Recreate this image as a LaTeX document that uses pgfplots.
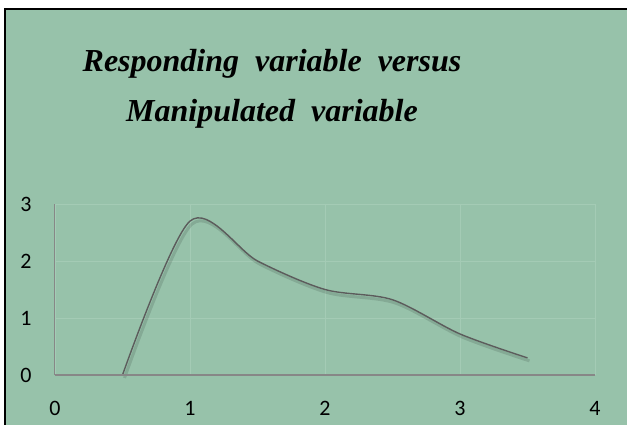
\documentclass[border=0pt]{standalone}
\usepackage{pgfplots}
\pgfplotsset{compat=1.18}
\usepackage{fontspec}
\setmainfont{Carlito}
\newfontfamily\titlefont{Liberation Serif}
\definecolor{bg}{RGB}{151,194,170}
\definecolor{gridc}{RGB}{164,203,181}
\definecolor{axc}{RGB}{135,135,135}
\definecolor{curve}{RGB}{92,92,92}
\newcommand{\tl}[1]{{\fontsize{22}{26}\selectfont #1}}
\begin{document}
\begin{tikzpicture}
\useasboundingbox (-55pt,-50pt) rectangle (572pt,375pt);
\fill[white] (-55pt,-50pt) rectangle (572pt,375pt);
\fill[bg] (-50pt,-50pt) rectangle (572pt,366pt);
\draw[black, line width=2pt] (-50pt,-52pt) -- (-50pt,366pt) -- (574pt,366pt);
\node[font=\titlefont\itshape\bfseries\fontsize{32}{50}\selectfont, align=center] at (217pt,286pt) {Responding\ \ variable\ \ versus\\Manipulated\ \ variable};
\begin{axis}[scale only axis,
  width=540pt, height=171pt,
  xmin=0, xmax=4, ymin=0, ymax=3,
  xtick={0,1,2,3,4}, ytick={0,1,2,3},
  xticklabels={\tl{0},\tl{1},\tl{2},\tl{3},\tl{4}},
  yticklabels={\tl{0},\tl{1},\tl{2},\tl{3}},
  axis line style={draw=none}, tick style={draw=none},
  grid=major, grid style={gridc, line width=0.8pt},
  tick label style={text=black},
  xticklabel style={anchor=center, yshift=-33pt},
  yticklabel style={anchor=center, xshift=-29pt},
  clip=false]
\addplot[black, opacity=0.12, line width=3pt, smooth, tension=0.5, xshift=2pt, yshift=-3pt] coordinates {(0.5,0) (1,2.7) (1.5,2) (2,1.5) (2.5,1.32) (3,0.72) (3.5,0.3)};
\addplot[curve, line width=1.4pt, smooth, tension=0.5] coordinates {(0.5,0) (1,2.7) (1.5,2) (2,1.5) (2.5,1.32) (3,0.72) (3.5,0.3)};
\draw[axc, line width=1.2pt] (axis cs:0,0) -- (axis cs:4,0);
\draw[axc, line width=1pt] (axis cs:0,0) -- (axis cs:0,3);
\end{axis}
\end{tikzpicture}
\end{document}
